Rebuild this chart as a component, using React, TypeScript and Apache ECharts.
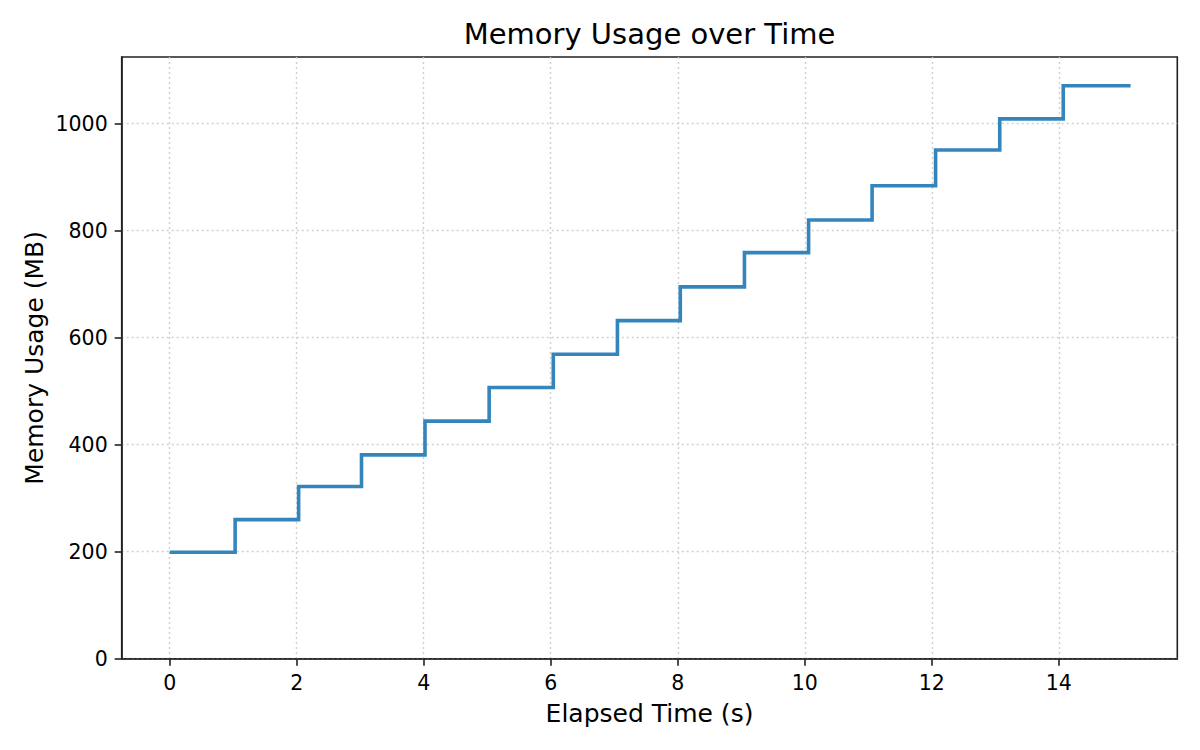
import React, { useEffect, useRef } from "react";
import * as echarts from "echarts";

const TITLE = "Memory Usage over Time";
const X_LABEL = "Elapsed Time (s)";
const Y_LABEL = "Memory Usage (MB)";

const elapsedTimes = [0, 1.03, 2.03, 3.02, 4.02, 5.03, 6.04, 7.05, 8.04, 9.05, 10.06, 11.06, 12.06, 13.07, 14.07, 15.13];
const memoryMB = [199, 260, 322, 381, 444, 507, 569, 632, 695, 759, 820, 884, 951, 1009, 1071, 1071];

const xTicks = [0, 2, 4, 6, 8, 10, 12, 14];
const yTicks = [0, 200, 400, 600, 800, 1000];

const X_MIN = -0.756;
const X_MAX = 15.866;
const Y_MIN = 0;
const Y_MAX = 1124.7;

const FONT = "DejaVu Sans";
const INK = "#222222";

export default function App() {
  const ref = useRef<HTMLDivElement>(null);

  useEffect(() => {
    if (!ref.current) return;
    const chart = echarts.init(ref.current, undefined, { renderer: "svg" });
    const gridLeft = 121.7;
    const gridRight = 22.7;
    const gridTop = 57;
    const gridBottom = 91.3;
    const plotCenterX = gridLeft + (1200 - gridLeft - gridRight) / 2;
    const plotCenterY = gridTop + (750 - gridTop - gridBottom) / 2;

    const data = elapsedTimes.map((t, i) => [t, memoryMB[i]]);

    chart.setOption({
      animation: false,
      backgroundColor: "#ffffff",
      grid: {
        left: gridLeft,
        right: gridRight,
        top: gridTop,
        bottom: gridBottom,
        show: true,
        borderColor: INK,
        borderWidth: 1.6,
        backgroundColor: "transparent",
      },
      xAxis: {
        type: "value",
        min: X_MIN,
        max: X_MAX,
        axisLine: { show: true, onZero: false, lineStyle: { color: INK, width: 1.6 } },
        axisTick: {
          show: true,
          inside: false,
          length: 7,
          lineStyle: { color: INK, width: 1.6 },
          customValues: xTicks,
        },
        axisLabel: {
          show: true,
          margin: 14,
          color: "#000000",
          fontFamily: FONT,
          fontSize: 20.5,
          customValues: xTicks,
          formatter: (v: number) => String(v),
        },
        splitLine: {
          show: true,
          lineStyle: { color: "#cfcfcf", width: 1.4, type: [2, 3] },
        },
      },
      yAxis: {
        type: "value",
        min: Y_MIN,
        max: Y_MAX,
        axisLine: { show: true, onZero: false, lineStyle: { color: INK, width: 1.6 } },
        axisTick: {
          show: true,
          inside: false,
          length: 7,
          lineStyle: { color: INK, width: 1.6 },
          customValues: yTicks,
        },
        axisLabel: {
          show: true,
          margin: 14,
          color: "#000000",
          fontFamily: FONT,
          fontSize: 20.5,
          customValues: yTicks,
          formatter: (v: number) => String(v),
        },
        splitLine: {
          show: true,
          lineStyle: { color: "#cfcfcf", width: 1.4, type: [2, 3] },
        },
      },
      series: [
        {
          type: "line",
          step: "end",
          data,
          showSymbol: false,
          symbol: "none",
          lineStyle: { color: "#3585bd", width: 3.6, join: "miter", cap: "butt" },
          z: 5,
        },
      ],
      graphic: [
        {
          type: "text",
          x: plotCenterX,
          y: 34,
          style: {
            text: TITLE,
            fill: "#000000",
            font: `29px "${FONT}"`,
            align: "center",
            verticalAlign: "middle",
          },
        },
        {
          type: "text",
          x: plotCenterX,
          y: 713,
          style: {
            text: X_LABEL,
            fill: "#000000",
            font: `25px "${FONT}"`,
            align: "center",
            verticalAlign: "middle",
          },
        },
        {
          type: "text",
          x: 34,
          y: plotCenterY,
          rotation: Math.PI / 2,
          style: {
            text: Y_LABEL,
            fill: "#000000",
            font: `25px "${FONT}"`,
            align: "center",
            verticalAlign: "middle",
          },
        },
      ],
    });

    return () => {
      chart.dispose();
    };
  }, []);

  return (
    <div
      ref={ref}
      style={{ position: "fixed", left: 0, top: 0, width: 1200, height: 750, background: "#ffffff" }}
    />
  );
}
